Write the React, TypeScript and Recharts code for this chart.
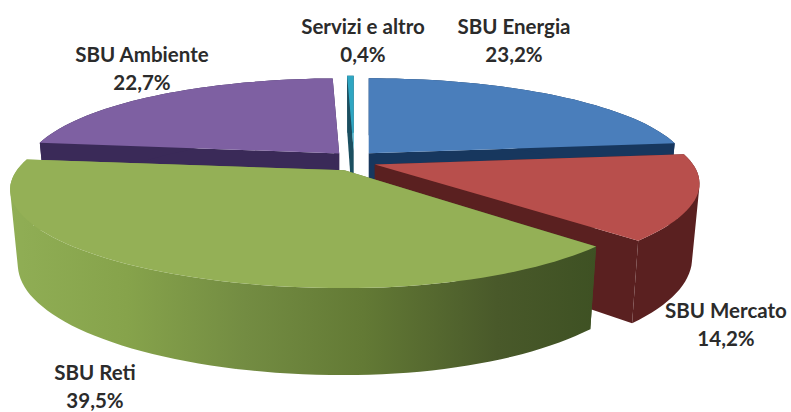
import { PieChart, Pie } from "recharts";

// Drawn back to front: purple first, green last, so the front slices cover the back ones
const names = ["SBU Ambiente", "Servizi e altro", "SBU Energia", "SBU Mercato", "SBU Reti"];
const shares = [22.7, 0.4, 23.2, 14.2, 39.5];
const shareLabels = ["22,7%", "0,4%", "23,2%", "14,2%", "39,5%"];

const topColors = ["#7e60a2", "#2fa6c2", "#4a7ebb", "#b84f4c", "#94b056"];
const sideColors = ["#3a2a58", "#1b4f60", "#17375e", "#5a2020", "url(#greenWall)"];
const labelSpots = [
  [142, 62],
  [363, 34],
  [514, 34],
  [726, 318],
  [95, 380],
];
// the original perspective is not symmetric, so slices get their own widths
const stretchLeft = [0.98, 1, 1, 1, 1.04];
const stretchRight = [1, 1, 1, 1.01, 0.965];

const chartData = names.map((name, i) => ({ name, value: shares[i] }));

// first slice of the original (Energia) starts at 12 o'clock
const startAt = 90 + ((shares[0] + shares[1]) / 100) * 360;

// Fake 3D: perspective numbers for the tilted disc
const TILT_Y = 91.7;
const PERSP_X = 0.2;
const PERSP_Y = 0.222;
const DEPTH_BASE = 72;
const DEPTH_FRONT = 15;
const BOTTOM_SHRINK = 0.977;
const EXPLODE_X = 22;
const EXPLODE_Y = 10.3;

const rad = (deg: number) => (deg * Math.PI) / 180;

const pairs = (pts: number[][]) => pts.map((p) => `${p[0].toFixed(1)},${p[1].toFixed(1)}`);

// quads must all wind the same way, or nonzero fill punches holes where they overlap
function quadPath(pts: number[][]) {
  let area = 0;
  pts.forEach((p, i) => {
    const q = pts[(i + 1) % pts.length];
    area += p[0] * q[1] - q[0] * p[1];
  });
  const ordered = area < 0 ? [...pts].reverse() : pts;
  return `M${pairs(ordered).join(" L")}Z`;
}

function Slice3D(props: any) {
  const { cx, cy, outerRadius, startAngle, endAngle, index } = props;
  const mid = rad((startAngle + endAngle) / 2);
  const ax = cx + EXPLODE_X * Math.cos(mid);
  const ay = cy - EXPLODE_Y * Math.sin(mid);

  const project = (deg: number) => {
    const u = Math.cos(rad(deg));
    const v = -Math.sin(rad(deg));
    const stretch = u < 0 ? stretchLeft[index] : stretchRight[index];
    return [
      ax + (outerRadius * stretch * u) / (1 - PERSP_X * v),
      ay + (TILT_Y * v) / (1 - PERSP_Y * v),
      v,
    ];
  };
  const lower = ([x, y, v]: number[]) => [
    ax + (x - ax) * BOTTOM_SHRINK,
    y + DEPTH_BASE + DEPTH_FRONT * v,
    v,
  ];

  const steps = Math.max(2, Math.ceil(Math.abs(startAngle - endAngle) / 2));
  const arc: number[][] = [];
  for (let i = 0; i <= steps; i++) {
    arc.push(project(startAngle + ((endAngle - startAngle) * i) / steps));
  }
  const apex = [ax, ay, 0];

  const first = arc[0];
  const last = arc[arc.length - 1];
  const side = sideColors[index];

  // outer wall, one quad per step: a single outline pinches where the rim turns back
  const wall = arc
    .slice(0, -1)
    .map((p, i) => quadPath([p, arc[i + 1], lower(arc[i + 1]), lower(p)]))
    .join(" ");

  return (
    <g>
      {index === 4 && (
        <defs>
          <linearGradient id="greenWall" gradientUnits="userSpaceOnUse" x1="10" y1="0" x2="597" y2="0">
            <stop offset="0" stopColor="#90ae55" />
            <stop offset="0.2" stopColor="#86a34b" />
            <stop offset="0.4" stopColor="#738c42" />
            <stop offset="0.6" stopColor="#637a35" />
            <stop offset="0.83" stopColor="#49592a" />
            <stop offset="1" stopColor="#3e5123" />
          </linearGradient>
        </defs>
      )}
      <polygon points={pairs([apex, first, lower(first), lower(apex)]).join(" ")} fill={side} />
      <polygon points={pairs([apex, last, lower(last), lower(apex)]).join(" ")} fill={side} />
      <path d={wall} fill={side} />
      <polygon points={pairs([apex, ...arc]).join(" ")} fill={topColors[index]} />
    </g>
  );
}

function SliceLabel(props: any) {
  const { index } = props;
  const [x, y] = labelSpots[index];
  return (
    <text
      x={x}
      y={y}
      textAnchor="middle"
      fontFamily="Lato, sans-serif"
      fontWeight={700}
      fontSize={20.5}
      fill="#2b2b2b"
    >
      <tspan x={x}>{names[index]}</tspan>
      <tspan x={x} dy={28}>
        {shareLabels[index]}
      </tspan>
    </text>
  );
}

export default function App() {
  return (
    <div style={{ position: "absolute", left: 0, top: 0, width: 791, height: 412, background: "#fff" }}>
      <PieChart width={791} height={412} margin={{ top: 0, right: 0, bottom: 0, left: 0 }}>
        <Pie
          data={chartData}
          dataKey="value"
          nameKey="name"
          cx={354}
          cy={161}
          innerRadius={0}
          outerRadius={315}
          startAngle={startAt}
          endAngle={startAt - 360}
          stroke="none"
          shape={Slice3D}
          label={SliceLabel}
          labelLine={false}
          isAnimationActive={false}
        />
      </PieChart>
    </div>
  );
}
